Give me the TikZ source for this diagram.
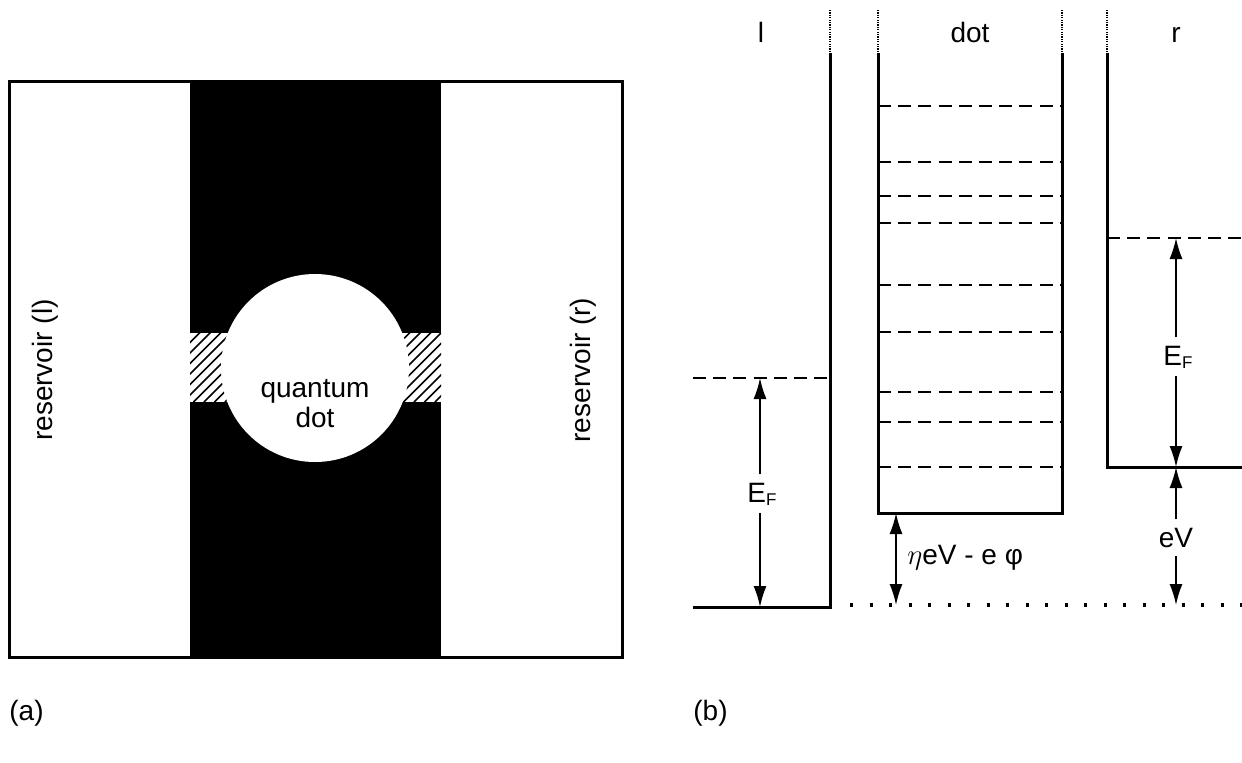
\documentclass[tikz,border=0pt]{standalone}
\usepackage{fontspec}
\setmainfont{Liberation Sans}
\usetikzlibrary{arrows.meta}
\newcommand{\EFlabel}{E\raisebox{-1.5pt}{\fontsize{8.5}{9}\selectfont F}}
\begin{document}
\begin{tikzpicture}[x=0.5pt,y=-0.5pt,
  thickline/.style={line width=1.5pt},
  level/.style={line width=1.1pt, dash pattern=on 6.5pt off 3.6pt},
  topdots/.style={line width=0.9pt, dash pattern=on 0.6pt off 0.6pt},
  dim/.style={line width=0.85pt, -{Latex[length=10.5pt,width=6.5pt]}},
  dimboth/.style={line width=0.85pt, {Latex[length=10.5pt,width=6.5pt]}-{Latex[length=10.5pt,width=6.5pt]}},
  lab/.style={font=\fontsize{14}{15}\selectfont, inner sep=0pt},
  gaplab/.style={font=\fontsize{14}{15}\selectfont, inner sep=4pt},
  hatchline/.style={line width=0.8pt},
]
\useasboundingbox (0,0) rectangle (1242,762);

% ---------- panel (a) ----------
\fill[black] (190,81) rectangle (441,657);
\begin{scope}
  \clip (190,333) rectangle (441,402);
  \fill[white] (190,333) rectangle (441,402);
  \foreach \i in {0,...,30} \draw[hatchline] (120+\i*10.5,402) -- ++(80,-80);
\end{scope}
\fill[white] (315,368) circle[radius=47pt];
\draw[thickline] (9,81) rectangle (622,657);

\node[lab, rotate=90] (resl) at (45,370) {reservoir (l)};
\node[lab, rotate=90] (resr) at (583,370) {reservoir (r)};
\node[lab, align=center] (qd) at (315,404) {quantum\\dot};
\node[lab, anchor=west] (pa) at (9,713) {(a)};

% ---------- panel (b) ----------
\node[lab, anchor=west] (pb) at (693,713) {(b)};

% left reservoir
\draw[topdots] (830,10) -- (830,53);
\draw[thickline] (830,53) -- (830,607) -- (693,607);
\draw[level] (693,378) -- (830,378);

% dot
\draw[topdots] (878,10) -- (878,53);
\draw[topdots] (1062,10) -- (1062,53);
\draw[thickline] (878,53) -- (878,513) -- (1062,513) -- (1062,53);
\foreach \y in {106,162,196,223,285,332,392,422,467}
  \draw[level] (878,\y) -- (1062,\y);

% right reservoir
\draw[topdots] (1107,10) -- (1107,53);
\draw[thickline] (1107,53) -- (1107,467) -- (1242,467);
\draw[level] (1107,238) -- (1242,238);

% baseline dots
\draw[line width=1.6pt, dash pattern=on 1.6pt off 8.15pt] (850,605) -- (1242,605);

% column labels
\node[lab, anchor=base] (ll) at (761,42) {l};
\node[lab, anchor=base] (ld) at (970,42) {dot};
\node[lab, anchor=base] (lr) at (1176,42) {r};

% left Fermi energy
\coordinate (lEFt) at (760,378);
\coordinate (lEFb) at (760,607);
\node[gaplab, anchor=base] (EFl) at (762,502) {\EFlabel};
\draw[dim] (EFl.north -| lEFt) -- (lEFt);
\draw[dim] (EFl.south -| lEFb) -- (lEFb);

% right Fermi energy
\coordinate (rEFt) at (1176,238);
\coordinate (rEFb) at (1176,467);
\node[gaplab, anchor=base] (EFr) at (1178,365) {\EFlabel};
\draw[dim] (EFr.north -| rEFt) -- (rEFt);
\draw[dim] (EFr.south -| rEFb) -- (rEFb);

% eV
\coordinate (eVb) at (1176,605);
\node[gaplab, anchor=base] (eV) at (1176,547) {eV};
\draw[dim] (eV.north -| rEFb) -- (rEFb);
\draw[dim] (eV.south -| eVb) -- (eVb);

% dot shift
\coordinate (dst) at (896,513);
\coordinate (dsb) at (896,605);
\draw[dimboth] (dst) -- (dsb);
\node[lab, anchor=west] (shift) at (907,558) {$\eta$eV - e φ};
\end{tikzpicture}
\end{document}
